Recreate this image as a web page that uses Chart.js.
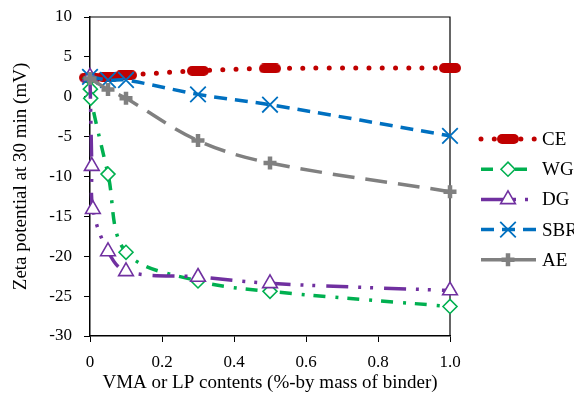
<!DOCTYPE html>
<html>
<head>
<meta charset="utf-8">
<script src="https://cdn.jsdelivr.net/npm/chart.js@4.4.1/dist/chart.umd.min.js"></script>
<style>
  html, body { margin: 0; padding: 0; background: #fff; overflow: hidden; }
</style>
</head>
<body>
<canvas id="zeta-chart" width="574" height="397"></canvas>
<script>
// values
const seriesNames = ['CE', 'WG', 'DG', 'SBR', 'AE'];

const ceX = [0, 0.05, 0.1, 0.3, 0.5, 1];
const ceY = [2.4, 2.5, 2.7, 3.25, 3.55, 3.6];

const wgX = [0, 0.001, 0.002, 0.05, 0.1, 0.3, 0.5, 1];
const wgY = [2.3, 0.95, -0.2, -9.7, -19.5, -23.1, -24.4, -26.3];

const dgX = [0, 0.005, 0.008, 0.05, 0.1, 0.3, 0.5, 1];
const dgY = [2.5, -8.7, -14.1, -19.4, -21.9, -22.6, -23.4, -24.3];

const sbrX = [0, 0.05, 0.1, 0.3, 0.5, 1];
const sbrY = [2.5, 2.1, 2.1, 0.3, -1.0, -4.9];

const aeX = [0, 0.05, 0.1, 0.3, 0.5, 1];
const aeY = [2.3, 0.9, -0.2, -5.5, -8.3, -11.9];

const xTickValues = [0, 0.2, 0.4, 0.6, 0.8, 1];
const yTickValues = [-30, -25, -20, -15, -10, -5, 0, 5, 10];

const xTitle = 'VMA or LP contents (%-by mass of binder)';
const yTitle = 'Zeta potential at 30 min (mV)';

const FONT = "'Liberation Serif', 'Times New Roman', serif";
Chart.defaults.font.family = FONT;
Chart.defaults.color = '#000';

function pairs(xs, ys) {
    return xs.map((x, i) => ({x: x, y: ys[i]}));
}

// the CE marker is a fat rounded bar, made as a small canvas
function barMarker(color) {
    const c = document.createElement('canvas');
    c.width = 22; c.height = 10;
    const g = c.getContext('2d');
    g.fillStyle = color;
    g.beginPath();
    g.roundRect(0, 0, 22, 10, 5);
    g.fill();
    return c;
}

const datasets = [
    {
        label: seriesNames[0], data: pairs(ceX, ceY),
        borderColor: '#C00000', backgroundColor: '#C00000',
        borderWidth: 5, borderDash: [0, 13.3], borderCapStyle: 'round',
        pointStyle: barMarker('#C00000'), pointRadius: 10, pointBorderWidth: 0,
        order: 5
    },
    {
        label: seriesNames[1], data: pairs(wgX, wgY),
        borderColor: '#00B050', backgroundColor: '#fff',
        borderWidth: 3.5, borderDash: [12, 10, 3, 9],
        pointStyle: 'rectRot', pointRadius: 7, pointBorderWidth: 1.6,
        order: 4
    },
    {
        label: seriesNames[2], data: pairs(dgX, dgY),
        borderColor: '#7030A0', backgroundColor: '#fff',
        borderWidth: 3.5, borderDash: [22, 10, 3, 9, 3, 11],
        pointStyle: 'triangle', pointRadius: 8.5, pointBorderWidth: 1.6,
        order: 3
    },
    {
        label: seriesNames[3], data: pairs(sbrX, sbrY),
        borderColor: '#0070C0', backgroundColor: '#0070C0',
        borderWidth: 3.5, borderDash: [13, 8],
        pointStyle: 'crossRot', pointRadius: 11, pointBorderWidth: 1.8,
        order: 2
    },
    {
        label: seriesNames[4], data: pairs(aeX, aeY),
        borderColor: '#808080', backgroundColor: '#808080',
        borderWidth: 3.5, borderDash: [22, 11],
        pointStyle: 'cross', pointRadius: 6.5, pointBorderWidth: 4.5,
        order: 1
    }
];

datasets.forEach(ds => {
    ds.showLine = true;
    ds.tension = 0.35;
    ds.clip = false;
    ds.pointHoverRadius = ds.pointRadius;
    ds.pointBackgroundColor = ds.backgroundColor;
    ds.pointBorderColor = ds.borderColor;
});

// top and right edges of the plot box
const frame = {
    id: 'frame',
    beforeDatasetsDraw(chart) {
        const a = chart.chartArea, ctx = chart.ctx;
        ctx.save();
        ctx.strokeStyle = '#000';
        ctx.lineWidth = 1.2;
        ctx.beginPath();
        ctx.moveTo(a.left, a.top);
        ctx.lineTo(a.right, a.top);
        ctx.lineTo(a.right, a.bottom);
        ctx.stroke();
        ctx.restore();
    }
};

// legend to the right, line sample with marker like the spreadsheet one
const sideLegend = {
    id: 'sideLegend',
    afterDraw(chart) {
        const ctx = chart.ctx;
        const top = 139, gap = 30.2;
        chart.data.datasets.forEach((ds, i) => {
            const y = top + i * gap;
            ctx.save();
            ctx.strokeStyle = ds.borderColor;
            ctx.lineWidth = ds.borderWidth;
            ctx.lineCap = ds.borderCapStyle || 'butt';
            ctx.setLineDash(ds.borderDash);
            ctx.beginPath();
            ctx.moveTo(481, y);
            ctx.lineTo(536, y);
            ctx.stroke();
            ctx.setLineDash([]);
            ctx.lineCap = 'butt';
            ctx.fillStyle = ds.backgroundColor;
            ctx.lineWidth = ds.pointBorderWidth;
            Chart.helpers.drawPoint(ctx, {
                pointStyle: ds.pointStyle, radius: ds.pointRadius,
                borderWidth: ds.pointBorderWidth, rotation: 0
            }, 508, y);
            ctx.fillStyle = '#000';
            ctx.font = '19px ' + FONT;
            ctx.textBaseline = 'middle';
            ctx.fillText(ds.label, 542, y + 1);
            ctx.restore();
        });
    }
};

new Chart(document.getElementById('zeta-chart'), {
    type: 'scatter',
    data: {datasets},
    plugins: [frame, sideLegend],
    options: {
        responsive: false,
        animation: false,
        devicePixelRatio: 1,
        layout: {padding: {top: 17, right: 124, bottom: 0, left: 0}},
        plugins: {legend: {display: false}, tooltip: {enabled: false}},
        scales: {
            x: {
                type: 'linear', min: 0, max: 1,
                afterBuildTicks: s => { s.ticks = xTickValues.map(v => ({value: v})); },
                afterFit: s => { s.height = 61; s.paddingLeft = 0; s.paddingRight = 0; },
                ticks: {font: {size: 17}, padding: 10, color: '#000'},
                grid: {display: true, drawOnChartArea: false, tickLength: 6, color: '#000'},
                border: {color: '#000', width: 1.5},
                title: {display: true, text: xTitle, font: {size: 19}, padding: {top: 0, bottom: 3}}
            },
            y: {
                type: 'linear', min: -30, max: 10,
                afterBuildTicks: s => { s.ticks = yTickValues.map(v => ({value: v})); },
                afterFit: s => { s.width = 90; s.paddingTop = 0; s.paddingBottom = 0; },
                ticks: {font: {size: 17}, padding: 12, color: '#000'},
                grid: {display: true, drawOnChartArea: false, tickLength: 6, color: '#000'},
                border: {color: '#000', width: 1.5},
                title: {display: true, text: yTitle, font: {size: 19}, padding: {top: 10, bottom: 0}}
            }
        }
    }
});
</script>
</body>
</html>
